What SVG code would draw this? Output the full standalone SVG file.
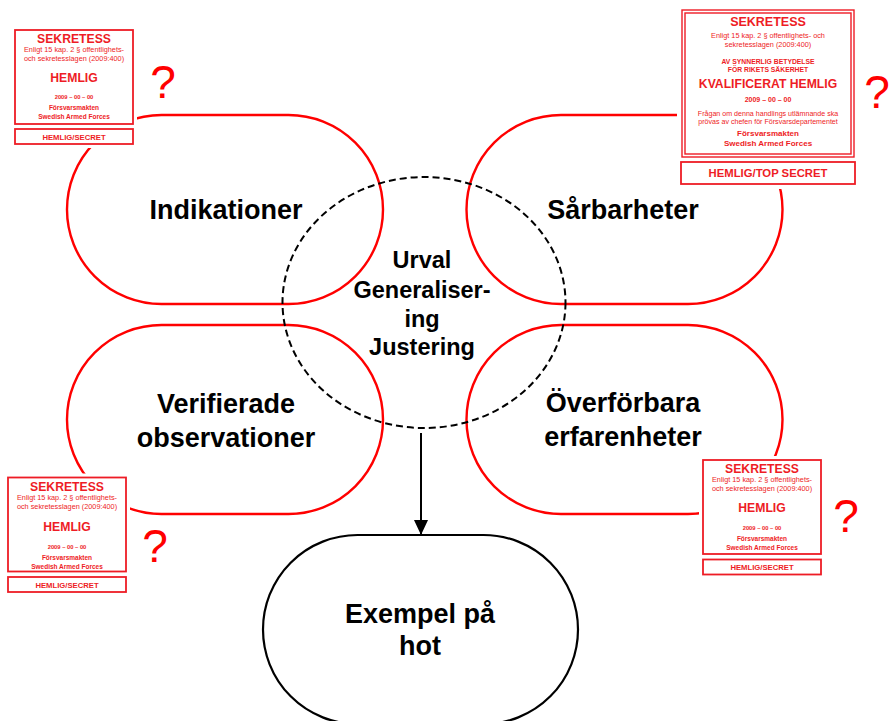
<svg xmlns="http://www.w3.org/2000/svg" width="891" height="721" viewBox="0 0 891 721">
<style>
  text { font-family: "Liberation Sans", Arial, sans-serif; text-anchor: middle; }
  .stad { fill: none; stroke: #ff0000; stroke-width: 2.4; }
  .black { fill: none; stroke: #000; stroke-width: 2.2; }
  .dash { fill: none; stroke: #000; stroke-width: 2; stroke-dasharray: 7 4; }
  .lbl { font-size: 27px; font-weight: bold; fill: #000; }
  .ctr { font-size: 23.5px; font-weight: bold; fill: #000; }
  .q { font-size: 46px; fill: #ff0000; }
  .wbg { fill: #fff; stroke: none; }
  .sb { fill: none; stroke: #ee1c25; stroke-width: 1.8; }
  .sb2 { fill: none; stroke: #ee1c25; stroke-width: 1.4; }
  .st { font-size: 12.2px; font-weight: bold; fill: #ee1c25; }
  .ss { font-size: 7.3px; fill: #ee1c25; }
  .sd { font-size: 5.8px; font-weight: bold; fill: #ee1c25; }
  .so { font-size: 6.5px; font-weight: bold; fill: #ee1c25; }
  .sl { font-size: 7.7px; font-weight: bold; fill: #ee1c25; }
</style>
<defs>
  <marker id="arr" markerWidth="16" markerHeight="14" refX="15" refY="7" orient="auto" markerUnits="userSpaceOnUse" viewBox="0 0 16 14">
    <path d="M0,0 L15,7 L0,14 Z" fill="#000"/>
  </marker>
</defs>
<rect width="891" height="721" fill="#fff"/>

<g id="indikationer">
  <rect class="stad" x="67" y="115" width="316" height="189" rx="94.5"/>
  <text class="lbl" x="226" y="219">Indikationer</text>
</g>
<g id="sarbarheter">
  <rect class="stad" x="466.5" y="115" width="316" height="189" rx="94.5"/>
  <text class="lbl" x="623" y="219">Sårbarheter</text>
</g>
<g id="verifierade">
  <rect class="stad" x="67" y="325" width="316" height="189" rx="94.5"/>
  <text class="lbl" x="226" y="413">Verifierade</text>
  <text class="lbl" x="226" y="447">observationer</text>
</g>
<g id="overforbara">
  <rect class="stad" x="466.5" y="325" width="316" height="189" rx="94.5"/>
  <text class="lbl" x="623" y="412">Överförbara</text>
  <text class="lbl" x="623" y="446">erfarenheter</text>
</g>
<g id="urval">
  <ellipse class="dash" cx="424" cy="302.5" rx="141.5" ry="125.5"/>
  <text class="ctr" x="422" y="268">Urval</text>
  <text class="ctr" x="422" y="298">Generaliser-</text>
  <text class="ctr" x="422" y="327">ing</text>
  <text class="ctr" x="422" y="355">Justering</text>
</g>
<g id="exempel">
  <rect class="black" x="263" y="535" width="315" height="189" rx="94.5"/>
  <text class="lbl" x="420" y="623">Exempel på</text>
  <text class="lbl" x="420" y="655">hot</text>
</g>

<g id="connectors">
  <line x1="421" y1="433" x2="421" y2="535" stroke="#000" stroke-width="2" marker-end="url(#arr)"/>
</g>

<g id="stamp-tl">
  <rect class="wbg" x="11" y="26" width="126" height="122"/>
  <rect class="sb" x="15" y="30" width="118" height="94"/>
  <text class="st" x="74" y="43">SEKRETESS</text>
  <text class="ss" x="74" y="52">Enligt 15 kap. 2 § offentlighets-</text>
  <text class="ss" x="74" y="61">och sekretesslagen (2009:400)</text>
  <text class="st" x="74" y="82">HEMLIG</text>
  <text class="sd" x="74" y="99">2009 – 00 – 00</text>
  <text class="so" x="74" y="110">Försvarsmakten</text>
  <text class="so" x="74" y="119">Swedish Armed Forces</text>
  <rect class="sb" x="15" y="129" width="118" height="15"/>
  <text class="sl" x="74" y="139.5">HEMLIG/SECRET</text>
</g>

<g id="stamp-bl" transform="translate(-7,447.5)">
  <rect class="wbg" x="11" y="26" width="126" height="122"/>
  <rect class="sb" x="15" y="30" width="118" height="94"/>
  <text class="st" x="74" y="43">SEKRETESS</text>
  <text class="ss" x="74" y="52">Enligt 15 kap. 2 § offentlighets-</text>
  <text class="ss" x="74" y="61">och sekretesslagen (2009:400)</text>
  <text class="st" x="74" y="83">HEMLIG</text>
  <text class="sd" x="74" y="101">2009 – 00 – 00</text>
  <text class="so" x="74" y="112">Försvarsmakten</text>
  <text class="so" x="74" y="121">Swedish Armed Forces</text>
  <rect class="sb" x="15" y="129.5" width="118" height="15"/>
  <text class="sl" x="74" y="140">HEMLIG/SECRET</text>
</g>

<g id="stamp-br" transform="translate(688,430)">
  <rect class="wbg" x="11" y="26" width="126" height="122"/>
  <rect class="sb" x="15" y="30" width="118" height="94"/>
  <text class="st" x="74" y="43">SEKRETESS</text>
  <text class="ss" x="74" y="52">Enligt 15 kap. 2 § offentlighets-</text>
  <text class="ss" x="74" y="61">och sekretesslagen (2009:400)</text>
  <text class="st" x="74" y="82">HEMLIG</text>
  <text class="sd" x="74" y="100">2009 – 00 – 00</text>
  <text class="so" x="74" y="111">Försvarsmakten</text>
  <text class="so" x="74" y="120">Swedish Armed Forces</text>
  <rect class="sb" x="15" y="129.5" width="118" height="15"/>
  <text class="sl" x="74" y="140">HEMLIG/SECRET</text>
</g>

<g id="stamp-tr">
  <rect class="wbg" x="677" y="5" width="183" height="184"/>
  <rect class="sb2" x="682" y="10" width="172" height="147"/>
  <rect class="sb2" x="685" y="13" width="166" height="141"/>
  <text class="st" x="768" y="26" style="font-size:12.5px">SEKRETESS</text>
  <text class="ss" x="768" y="38">Enligt 15 kap. 2 § offentlighets- och</text>
  <text class="ss" x="768" y="47">sekretesslagen (2009:400)</text>
  <text class="sd" x="768" y="64" style="font-size:6.8px">AV SYNNERLIG BETYDELSE</text>
  <text class="sd" x="768" y="72" style="font-size:6.8px">FÖR RIKETS SÄKERHET</text>
  <text class="st" x="768" y="88">KVALIFICERAT HEMLIG</text>
  <text class="sd" x="768" y="102" style="font-size:7px">2009 – 00 – 00</text>
  <text class="ss" x="768" y="116" style="font-size:7.1px">Frågan om denna handlings utlämnande ska</text>
  <text class="ss" x="768" y="124" style="font-size:7.1px">prövas av chefen för Försvarsdepartementet</text>
  <text class="so" x="768" y="136" style="font-size:8px">Försvarsmakten</text>
  <text class="so" x="768" y="146" style="font-size:8px">Swedish Armed Forces</text>
  <rect class="sb" x="681" y="162" width="174" height="22"/>
  <text class="sl" x="768" y="177" style="font-size:11.3px">HEMLIG/TOP SECRET</text>
</g>

<g id="questions">
  <text class="q" x="163" y="98">?</text>
  <text class="q" x="877" y="108">?</text>
  <text class="q" x="155" y="562">?</text>
  <text class="q" x="846" y="532">?</text>
</g>
</svg>
